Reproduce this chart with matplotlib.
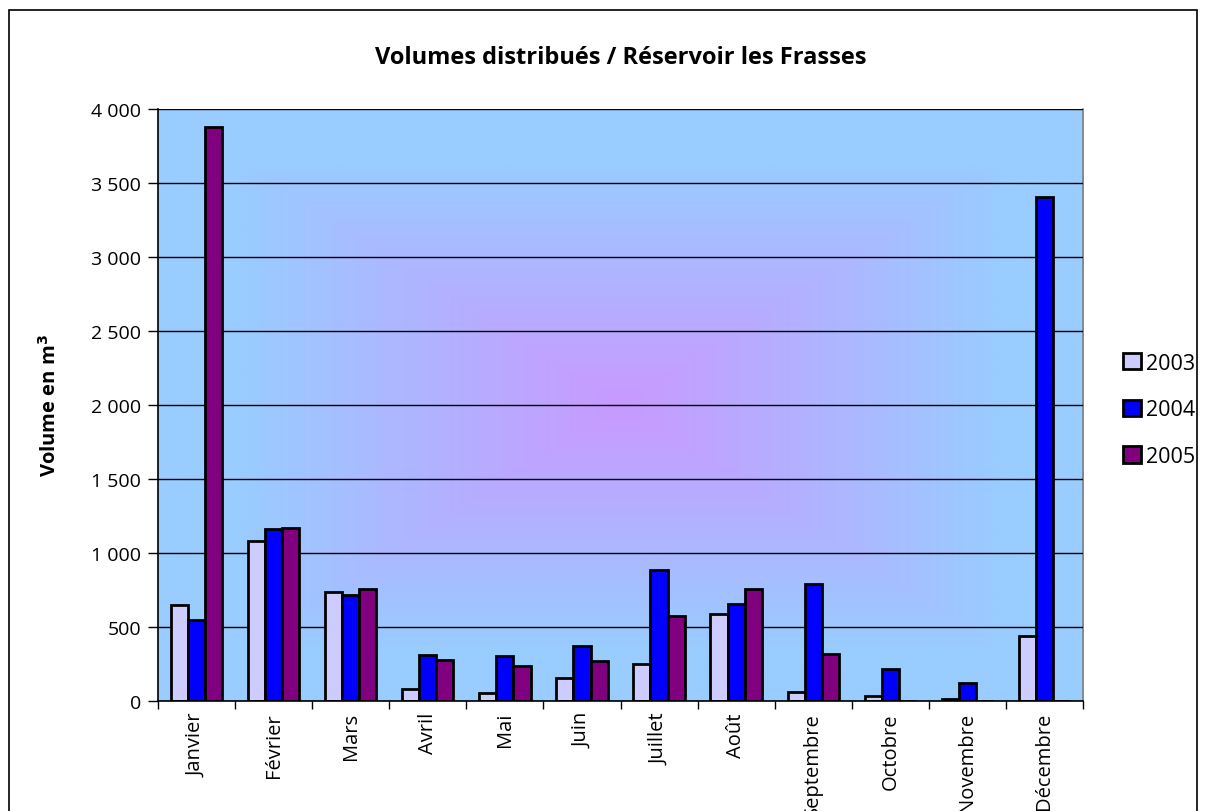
import numpy as np
import matplotlib
matplotlib.use("Agg")
import matplotlib.pyplot as plt
from matplotlib.colors import LinearSegmentedColormap
from matplotlib.patches import Rectangle
from matplotlib.ticker import FuncFormatter, MultipleLocator

plt.rcParams["font.family"] = ["Open Sans", "DejaVu Sans"]

# Monthly distributed volumes (m3) per year
months = ["Janvier", "Février", "Mars", "Avril", "Mai", "Juin",
          "Juillet", "Août", "Septembre", "Octobre", "Novembre", "Décembre"]
years = ["2003", "2004", "2005"]
vol_2003 = [650, 1078, 736, 78, 56, 155, 247, 588, 63, 36, 13, 437]
vol_2004 = [545, 1164, 718, 308, 304, 369, 887, 655, 792, 216, 124, 3405]
vol_2005 = [3880, 1169, 759, 274, 238, 270, 574, 759, 315, 0, 0, 0]
colors = ["#CCCCFF", "#0000FF", "#800080"]

fig = plt.figure(figsize=(12.07, 8.12), dpi=100)
ax = fig.add_axes([0.1309, 0.1355, 0.7664, 0.729])

# outer chart border
fig.patches.append(Rectangle((9 / 1207, -0.05), (1197 - 9) / 1207, 1.05 - 11 / 812,
                             transform=fig.transFigure, fill=False,
                             edgecolor="black", linewidth=1.2))

# background gradient: purple in the middle, light blue towards the edges
ny, nx = 300, 400
u = np.linspace(-1, 1, nx)[None, :]
v = np.linspace(-1, 1, ny)[:, None]
d = np.clip(np.maximum(np.abs(u), np.abs(v)) / 0.82, 0, 1)
cmap = LinearSegmentedColormap.from_list("bg", ["#C999FF", "#99CCFF"])
ax.imshow(d, cmap=cmap, extent=[0, 1, 0, 1], transform=ax.transAxes,
          aspect="auto", zorder=0, vmin=0, vmax=1, interpolation="bilinear")

x = np.arange(len(months))
w = 1 / 4.5
for i, (vals, col, lab) in enumerate(zip([vol_2003, vol_2004, vol_2005], colors, years)):
    ax.bar(x + (i - 1) * w, vals, width=w, color=col, edgecolor="black",
           linewidth=2.0, label=lab, zorder=3)

ax.set_xlim(-0.5, len(months) - 0.5)
ax.set_ylim(0, 4000)
ax.yaxis.set_major_locator(MultipleLocator(500))
ax.yaxis.set_major_formatter(FuncFormatter(lambda y, _: f"{int(y):,}".replace(",", " ")))
ax.grid(axis="y", color="black", linewidth=1.0, zorder=1)
ax.set_axisbelow(False)

ax.set_xticks(x)
ax.set_xticklabels(months, rotation=90, fontsize=14.5)
ax.set_xticks(np.arange(len(months) + 1) - 0.5, minor=True)
ax.tick_params(axis="x", which="major", length=0, pad=8)
ax.tick_params(axis="x", which="minor", length=6, width=1, direction="out")
ax.tick_params(axis="y", length=7, width=1, direction="out", labelsize=14, pad=5)

for s in ["left", "bottom"]:
    ax.spines[s].set_color("black")
    ax.spines[s].set_linewidth(1.2)
    ax.spines[s].set_zorder(4)
ax.spines["top"].set_visible(False)
ax.spines["right"].set_color("#808080")
ax.spines["right"].set_linewidth(1.2)

ax.set_title("Volumes distribués / Réservoir les Frasses", fontsize=17,
             fontweight="bold", pad=33)
ax.set_ylabel("Volume en m$^\\mathbf{3}$", fontsize=14.5, fontweight="bold", labelpad=22)

ax.legend(loc="center left", bbox_to_anchor=(1104 / 1207, 0.494), bbox_transform=fig.transFigure,
          frameon=False, fontsize=15.5, handlelength=0.8, handleheight=0.8,
          handletextpad=0.25, labelspacing=1.2)

fig.savefig("out.png", dpi=100)
